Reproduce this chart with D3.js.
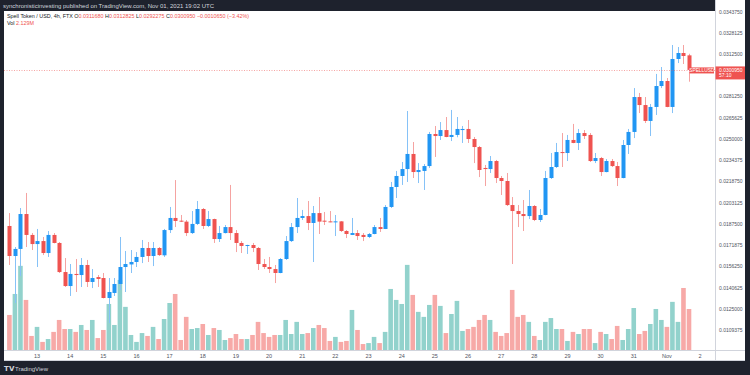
<!DOCTYPE html>
<html lang="en">
<head>
<meta charset="UTF-8">
<title>SPELLUSD 4h</title>
<script src="https://d3js.org/d3.v7.min.js"></script>
<style>
  html, body { margin: 0; padding: 0; background: #1e222d; }
  svg { display: block; font-family: "Liberation Sans", Arial, sans-serif; }
</style>
</head>
<body>
<svg id="chart" width="750" height="375"></svg>
<script>
// 4h candles, Oct 12 04:00 UTC -> Nov 01 16:00 UTC
const firstCandle = new Date(Date.UTC(2021, 9, 12, 4));

const opens = [
  0.01861,0.01640,0.01692,0.01949,0.01795,0.01728,0.01750,0.01662,0.01795,0.01736,
  0.01522,0.01419,0.01508,0.01500,0.01574,0.01449,0.01485,0.01478,0.01331,0.01368,
  0.01434,0.01559,0.01578,0.01596,0.01633,0.01699,0.01640,0.01699,0.01645,0.01831,
  0.01920,0.01900,0.01893,0.01809,0.01876,0.01986,0.01861,0.01912,0.01765,0.01809,
  0.01853,0.01809,0.01736,0.01714,0.01721,0.01699,0.01581,0.01559,0.01544,0.01515,
  0.01618,0.01750,0.01853,0.01920,0.01934,0.01883,0.01956,0.01900,0.01895,0.01890,
  0.01895,0.01824,0.01795,0.01809,0.01795,0.01780,0.01802,0.01853,0.01839,0.02001,
  0.02148,0.02229,0.02280,0.02391,0.02258,0.02266,0.02302,0.02538,0.02523,0.02567,
  0.02516,0.02531,0.02567,0.02575,0.02501,0.02442,0.02288,0.02280,0.02339,0.02214,
  0.02192,0.02015,0.01971,0.01949,0.01934,0.02008,0.01905,0.01942,0.02214,0.02295,
  0.02405,0.02398,0.02494,0.02472,0.02545,0.02531,0.02339,0.02361,0.02258,0.02339,
  0.02302,0.02214,0.02457,0.02553,0.02810,0.02751,0.02634,0.02737,0.02891,0.02928,
  0.02737,0.03090,0.03134,0.031168
];
const highs = [
  0.01956,0.01706,0.01993,0.02104,0.01809,0.01839,0.01780,0.01824,0.01809,0.01743,
  0.01625,0.01581,0.01618,0.01625,0.01611,0.01544,0.01500,0.01515,0.01478,0.01478,
  0.01780,0.01677,0.01684,0.01669,0.01758,0.01743,0.01743,0.01706,0.01839,0.02001,
  0.02199,0.01942,0.01905,0.01971,0.02045,0.01993,0.01971,0.01915,0.01861,0.01868,
  0.02163,0.01831,0.01750,0.01723,0.01736,0.01706,0.01618,0.01633,0.01574,0.01625,
  0.01787,0.01883,0.02067,0.01979,0.02045,0.02008,0.02074,0.01964,0.01971,0.01942,
  0.01897,0.01831,0.01920,0.01831,0.01809,0.01809,0.01868,0.01920,0.02015,0.02185,
  0.02266,0.02332,0.02707,0.02479,0.02324,0.02317,0.02553,0.02597,0.02626,0.02663,
  0.02715,0.02663,0.02597,0.02641,0.02516,0.02450,0.02310,0.02376,0.02347,0.02229,
  0.02251,0.02074,0.02015,0.02052,0.02126,0.02015,0.01986,0.02266,0.02398,0.02472,
  0.02545,0.02531,0.02612,0.02575,0.02567,0.02545,0.02398,0.02369,0.02354,0.02354,
  0.02332,0.02494,0.02575,0.02876,0.02840,0.02810,0.02759,0.02980,0.03031,0.02950,
  0.03193,0.03178,0.03193,0.0312825
];
const lows = [
  0.01574,0.01294,0.01493,0.01706,0.01684,0.01559,0.01647,0.01633,0.01733,0.01515,
  0.01412,0.01346,0.01375,0.01412,0.01412,0.01404,0.01412,0.01328,0.01147,0.01346,
  0.01390,0.01375,0.01515,0.01559,0.01588,0.01596,0.01566,0.01640,0.01633,0.01809,
  0.01853,0.01890,0.01787,0.01802,0.01868,0.01839,0.01853,0.01736,0.01743,0.01806,
  0.01758,0.01669,0.01662,0.01655,0.01669,0.01537,0.01544,0.01515,0.01441,0.01513,
  0.01611,0.01743,0.01809,0.01905,0.01831,0.01596,0.01802,0.01868,0.01888,0.01787,
  0.01817,0.01772,0.01794,0.01758,0.01750,0.01772,0.01800,0.01817,0.01838,0.01993,
  0.02067,0.02163,0.02185,0.02214,0.02177,0.02126,0.02288,0.02369,0.02494,0.02514,
  0.02486,0.02514,0.02472,0.02472,0.02324,0.02221,0.02155,0.02251,0.02177,0.02089,
  0.02008,0.01581,0.01853,0.01824,0.01912,0.01897,0.01890,0.01940,0.02207,0.02288,
  0.02295,0.02339,0.02470,0.02420,0.02501,0.02332,0.02324,0.02229,0.02256,0.02295,
  0.02155,0.02212,0.02391,0.02508,0.02692,0.02619,0.02523,0.02678,0.02876,0.02735,
  0.02692,0.03060,0.03053,0.0292275
];
const closes = [
  0.01640,0.01692,0.01949,0.01795,0.01728,0.01750,0.01662,0.01795,0.01736,0.01522,
  0.01419,0.01508,0.01500,0.01574,0.01449,0.01478,0.01471,0.01331,0.01375,0.01434,
  0.01559,0.01581,0.01596,0.01633,0.01699,0.01640,0.01699,0.01647,0.01831,0.01920,
  0.01898,0.01893,0.01809,0.01876,0.01986,0.01861,0.01912,0.01765,0.01809,0.01853,
  0.01809,0.01736,0.01714,0.01721,0.01699,0.01581,0.01559,0.01544,0.01515,0.01618,
  0.01750,0.01853,0.01920,0.01934,0.01883,0.01956,0.01893,0.01895,0.01890,0.01895,
  0.01824,0.01802,0.01809,0.01787,0.01780,0.01802,0.01853,0.01839,0.02001,0.02148,
  0.02229,0.02280,0.02391,0.02258,0.02273,0.02302,0.02538,0.02523,0.02567,0.02516,
  0.02531,0.02575,0.02575,0.02501,0.02442,0.02273,0.02280,0.02339,0.02214,0.02192,
  0.02015,0.01971,0.01949,0.01934,0.02008,0.01905,0.01942,0.02214,0.02295,0.02405,
  0.02398,0.02494,0.02472,0.02545,0.02523,0.02339,0.02361,0.02258,0.02339,0.02302,
  0.02214,0.02457,0.02553,0.02810,0.02751,0.02634,0.02737,0.02891,0.02928,0.02737,
  0.03090,0.03134,0.03112,0.030095
];
// volume in millions
const volumes = [
  1.82,2.91,4.37,2.60,0.73,1.20,0.42,0.57,0.94,1.56,
  1.09,1.09,0.94,1.30,1.04,1.56,0.62,1.04,2.39,1.30,
  3.64,2.24,0.78,0.42,0.88,0.73,1.20,0.57,1.61,2.44,
  2.91,0.52,1.72,1.09,1.14,1.35,0.78,1.14,1.04,0.52,
  0.62,0.83,0.57,0.57,0.78,1.46,0.88,0.68,0.78,0.78,
  1.56,0.83,1.46,0.83,0.88,1.14,1.30,1.14,0.47,0.68,
  0.42,0.47,2.08,1.04,0.31,0.36,0.68,0.36,0.94,3.17,
  2.60,2.39,4.42,2.86,1.98,1.72,2.34,2.86,2.29,0.88,
  1.87,2.55,0.99,1.09,1.20,1.56,1.82,1.56,0.94,0.73,
  0.88,3.12,1.72,1.82,1.46,0.73,0.52,1.46,1.66,1.09,
  1.09,0.47,0.94,0.83,1.09,1.09,0.36,0.94,0.83,0.57,
  1.25,0.52,1.09,2.18,0.83,0.99,1.35,2.13,1.56,1.20,
  2.50,1.46,3.22,2.129
];

const priceTicks = [0.0109375,0.0125,0.0140625,0.015625,0.0171875,0.01875,0.0203125,
  0.021875,0.0234375,0.025,0.0265625,0.028125,0.03125,0.0328125,0.034375];
const dayLabels = ["13","14","15","16","17","18","19","20","21","22","23","24","25",
  "26","27","28","29","30","31","Nov","2"];
const lastPrice = 0.0300950;

const W = 750, H = 375;
const plot = { left: 4, right: 715, top: 11, bottom: 350 };
const axisRight = 745;

const upBody = "#2196f3", downBody = "#ef5350";
const upWick = "#86c2f7", downWick = "#f5a3a1";
const upVol = "#92d2cc", downVol = "#f7a9a7";

const svg = d3.select("#chart");

const candles = opens.map((o, i) => ({
  t: d3.utcHour.offset(firstCandle, 4 * i),
  o, h: highs[i], l: lows[i], c: closes[i], v: volumes[i]
}));

const x = d3.scaleUtc()
  .domain([candles[0].t, candles[candles.length - 1].t])
  .range([9.4, 689]);
const y = d3.scaleLinear()
  .domain([0.0125, 0.0328125])
  .range([309, 33]);
const yVol = d3.scaleLinear()
  .domain([0, 6])
  .range([plot.bottom, plot.bottom - 6 * 41 / 2.129]);

// frame
svg.append("rect").attr("width", W).attr("height", H).attr("fill", "#1e222d");
svg.append("rect").attr("x", plot.left).attr("y", plot.top)
  .attr("width", axisRight - plot.left).attr("height", 361 - plot.top).attr("fill", "#ffffff");

svg.append("text").attr("x", 3).attr("y", 7.6)
  .attr("fill", "#d1d4dc").attr("font-size", 6)
  .text("synchronisticinvesting published on TradingView.com, Nov 01, 2021 19:02 UTC");

const defs = svg.append("defs");
defs.append("clipPath").attr("id", "plotClip").append("rect")
  .attr("x", plot.left).attr("y", plot.top)
  .attr("width", plot.right - plot.left).attr("height", plot.bottom - plot.top);

const g = svg.append("g").attr("clip-path", "url(#plotClip)");

// volume
const barW = 4.6;
g.append("g").selectAll("rect").data(candles).join("rect")
  .attr("x", d => x(d.t) - barW / 2)
  .attr("y", d => yVol(d.v))
  .attr("width", barW)
  .attr("height", d => yVol(0) - yVol(d.v))
  .attr("fill", d => d.c >= d.o ? upVol : downVol);

// wicks
g.append("g").selectAll("line").data(candles).join("line")
  .attr("x1", d => Math.round(x(d.t)) + 0.5).attr("x2", d => Math.round(x(d.t)) + 0.5)
  .attr("y1", d => y(d.h)).attr("y2", d => y(d.l))
  .attr("stroke", d => d.c >= d.o ? upWick : downWick)
  .attr("stroke-width", 1);

// bodies
const bodyW = 4;
g.append("g").selectAll("rect").data(candles).join("rect")
  .attr("x", d => Math.round(x(d.t)) + 0.5 - bodyW / 2)
  .attr("y", d => y(Math.max(d.o, d.c)))
  .attr("width", bodyW)
  .attr("height", d => Math.max(1, Math.abs(y(d.o) - y(d.c))))
  .attr("fill", d => d.c >= d.o ? upBody : downBody);

// last price line
g.append("line")
  .attr("x1", plot.left).attr("x2", plot.right)
  .attr("y1", y(lastPrice) + 0.5).attr("y2", y(lastPrice) + 0.5)
  .attr("stroke", "#ef5350").attr("stroke-width", 0.7)
  .attr("stroke-dasharray", "1,1.5").attr("opacity", 0.8);

// price axis
svg.append("line").attr("x1", plot.right + 0.5).attr("x2", plot.right + 0.5)
  .attr("y1", 0).attr("y2", 361).attr("stroke", "#d1d4dc").attr("stroke-width", 1);
svg.append("rect").attr("x", plot.right + 1).attr("y", 0)
  .attr("width", axisRight - plot.right - 1).attr("height", plot.top).attr("fill", "#ffffff");
svg.append("g").selectAll("text").data(priceTicks).join("text")
  .attr("x", 719).attr("y", d => y(d) + 1.8)
  .attr("font-size", 5).attr("fill", "#50535e")
  .text(d => d.toFixed(7));

// last price labels
const ly = y(lastPrice);
svg.append("rect").attr("x", plot.right + 0.5).attr("y", ly - 3.5)
  .attr("width", axisRight - plot.right - 0.5).attr("height", 13).attr("fill", "#ef5350");
svg.append("text").attr("x", 719).attr("y", ly + 1.8)
  .attr("font-size", 5).attr("fill", "#ffffff").text(lastPrice.toFixed(7));
svg.append("text").attr("x", 719).attr("y", ly + 7.4)
  .attr("font-size", 5).attr("fill", "#ffffff").text("57:10");
svg.append("rect").attr("x", 689.5).attr("y", ly - 2.5)
  .attr("width", 24.5).attr("height", 6).attr("fill", "#ef5350");
svg.append("text").attr("x", 701.8).attr("y", ly + 1.8)
  .attr("font-size", 4.8).attr("fill", "#ffffff").attr("text-anchor", "middle")
  .text("SPELLUSD");

// time axis
svg.append("line").attr("x1", plot.left).attr("x2", axisRight)
  .attr("y1", plot.bottom + 0.5).attr("y2", plot.bottom + 0.5)
  .attr("stroke", "#d1d4dc");
svg.append("line").attr("x1", plot.left).attr("x2", axisRight)
  .attr("y1", 360.5).attr("y2", 360.5).attr("stroke", "#d1d4dc");
const day0 = new Date(Date.UTC(2021, 9, 13));
svg.append("g").selectAll("text").data(dayLabels).join("text")
  .attr("x", (d, i) => x(d3.utcDay.offset(day0, i)))
  .attr("y", 357.5)
  .attr("text-anchor", "middle").attr("font-size", 5.5).attr("fill", "#50535e")
  .text(d => d);

// legend
const leg = svg.append("text").attr("x", 7).attr("y", 18.2).attr("font-size", 5.4);
leg.append("tspan").attr("fill", "#131722").text("Spell Token / USD, 4h, FTX  ");
[["O", "0.0311680"], ["H", "0.0312825"], ["L", "0.0292275"], ["C", "0.0300950"]].forEach(([k, v]) => {
  leg.append("tspan").attr("fill", "#131722").text(k);
  leg.append("tspan").attr("fill", "#ef5350").text(v + " ");
});
leg.append("tspan").attr("fill", "#ef5350").text("\u22120.0010650 (\u22123.42%)");

const leg2 = svg.append("text").attr("x", 7).attr("y", 25.4).attr("font-size", 5.4);
leg2.append("tspan").attr("fill", "#131722").text("Vol  ");
leg2.append("tspan").attr("fill", "#ef5350").text("2.129M");

// footer logo
svg.append("text").attr("x", 4).attr("y", 370.5)
  .attr("fill", "#d1d4dc").attr("font-size", 6.5).attr("font-weight", "bold")
  .text("\u{1D5E7}\u{1D5E9}");
svg.append("text").attr("x", 15).attr("y", 370.5)
  .attr("fill", "#d1d4dc").attr("font-size", 6).text("TradingView");
</script>
</body>
</html>
